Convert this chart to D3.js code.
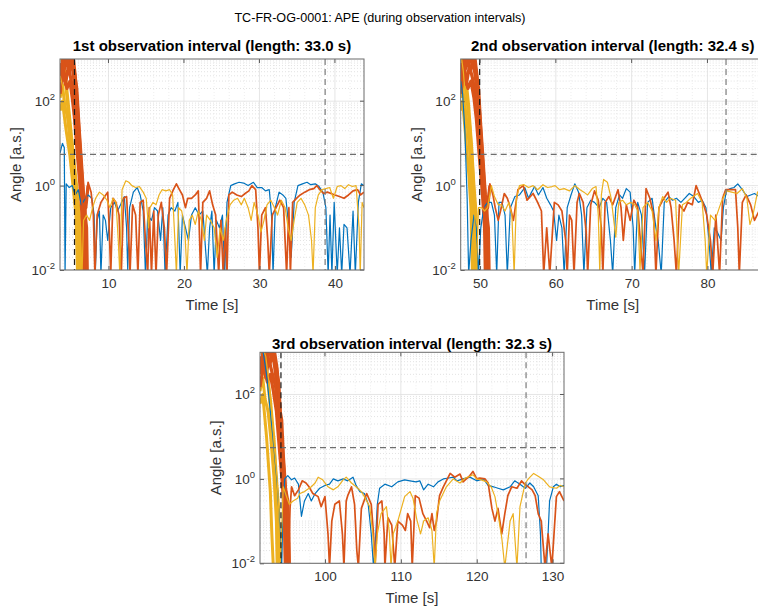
<!DOCTYPE html>
<html><head><meta charset="utf-8">
<script src="https://cdn.jsdelivr.net/npm/d3@7"></script>
<style>
body{margin:0;background:#fff}
svg{font-family:"Liberation Sans",Arial,Helvetica,sans-serif}
</style>
</head><body>
<svg id="chart" width="758" height="607"></svg>
<script>
// ---------------- data ----------------
const suptitle = "TC-FR-OG-0001: APE (during observation intervals)";
const panelTitles = [
  "1st observation interval (length: 33.0 s)",
  "2nd observation interval (length: 32.4 s)",
  "3rd observation interval (length: 32.3 s)"
];
const xLabel = "Time [s]";
const yLabel = "Angle [a.s.]";
const xLimits = [[3.58, 43.85], [47.45, 87.55], [91.44, 131.5]];
const xTicks = [[10, 20, 30, 40], [50, 60, 70, 80], [100, 110, 120, 130]];
const yLimits = [0.01, 1000];
const yTickExps = [-2, 0, 2];
const intervalStart = [5.5, 49.95, 94.2];
const intervalEnd = [38.7, 82.45, 126.5];
const thresholdValue = 5.5;
const seriesColors = { blue: "#0072BD", orange: "#D95319", yellow: "#EDB120" };

const p1Blue = [[3.6,6],[3.9,10],[4.15,8],[4.25,0.008],[4.4,1.1],[4.8,0.9],[5.2,1.0],[5.6,0.6],[6.0,0.8],[6.4,0.35],[6.8,0.45],[7.3,0.6],[7.8,0.5],[8.1,0.2],[8.25,0.008],[8.5,0.15],[8.8,0.25],[9.0,0.008],[9.3,0.2],[9.6,0.15],[9.9,0.05],[10.3,0.3],[10.8,0.4],[11.2,0.25],[11.6,0.35],[12.1,0.55],[12.4,0.1],[12.55,0.01],[12.8,0.3],[13.3,0.7],[13.8,0.9],[14.2,0.6],[14.6,0.25],[14.9,0.008],[15.2,0.2],[15.7,0.15],[16.1,0.3],[16.5,0.25],[16.9,0.05],[17.2,0.3],[17.5,0.008],[17.9,0.2],[18.3,0.3],[18.8,0.25],[19.2,0.4],[19.5,0.008],[19.8,0.2],[20.2,0.1],[20.6,0.05],[21.0,0.2],[21.5,0.3],[22.0,0.2],[22.5,0.25],[23.1,0.008],[23.4,0.1],[23.7,0.25],[24.0,0.008],[24.3,0.15],[24.7,0.1],[25.1,0.2],[25.4,0.008],[25.7,0.4],[26.2,1.0],[26.7,1.1],[27.3,1.2],[27.9,1.15],[28.5,1.0],[29.2,1.2],[29.7,0.9],[30.3,0.9],[30.8,0.75],[31.3,0.8],[31.6,0.2],[31.8,0.008],[32.1,0.3],[32.6,0.7],[33.1,0.6],[33.5,0.5],[33.9,0.1],[34.2,0.02],[34.6,0.4],[35.1,1.0],[35.7,1.1],[36.3,1.2],[36.8,1.05],[37.4,1.1],[37.9,0.95],[38.4,0.7],[38.8,0.3],[39.1,0.008],[39.35,0.2],[39.6,0.008],[39.9,0.4],[40.3,0.008],[40.6,0.1],[40.9,0.008],[41.2,0.12],[41.6,0.1],[42.0,0.008],[42.4,0.25],[42.7,0.008],[43.1,0.4],[43.5,1.1],[43.85,1.0]];
const p1Orange = [[3.6,2000],[5.0,2000],[5.4,300],[5.7,40],[6.0,6],[6.3,1.5],[6.6,0.2],[6.8,0.008],[7.05,0.5],[7.3,1.2],[7.7,0.7],[8.0,0.2],[8.2,0.008],[8.5,0.2],[9.0,0.4],[9.5,0.55],[9.9,0.7],[10.1,0.1],[10.3,0.008],[10.6,0.5],[11.0,0.4],[11.4,0.2],[11.7,0.008],[12.0,0.5],[12.4,0.55],[12.7,0.05],[12.85,0.008],[13.2,0.35],[13.6,0.2],[13.9,0.008],[14.2,0.4],[14.6,0.45],[14.9,0.05],[15.2,0.008],[15.4,0.3],[15.7,0.008],[16.0,0.25],[16.3,0.008],[16.6,0.2],[17.0,0.4],[17.4,0.1],[17.7,0.008],[18.1,0.5],[18.6,0.8],[19.0,1.1],[19.4,0.8],[19.8,0.6],[20.2,0.3],[20.5,0.5],[21.0,0.5],[21.5,0.6],[21.9,0.75],[22.2,0.008],[22.5,0.4],[23.0,0.5],[23.4,0.75],[23.8,0.35],[24.2,0.2],[24.6,0.008],[24.9,0.15],[25.2,0.008],[25.5,0.1],[25.7,0.008],[25.95,0.6],[26.4,0.7],[27.0,0.6],[27.6,0.55],[28.1,0.65],[28.6,0.75],[29.0,1.0],[29.5,0.8],[29.8,0.1],[30.0,0.008],[30.3,0.2],[30.8,0.3],[31.1,0.05],[31.3,0.008],[31.7,0.2],[32.2,0.3],[32.7,0.45],[33.2,0.3],[33.6,0.008],[33.9,0.3],[34.1,0.008],[34.4,0.4],[34.9,0.5],[35.4,0.6],[36.0,0.7],[36.6,0.8],[37.2,0.85],[37.6,1.0],[38.0,0.8],[38.5,0.65],[39.0,0.7],[39.5,0.65],[40.0,0.6],[40.6,0.55],[41.2,0.5],[41.8,0.6],[42.4,0.75],[43.0,0.8],[43.4,0.6],[43.85,0.7]];
const p1Yellow = [[3.6,400],[4.0,200],[4.4,60],[4.8,15],[5.1,5],[5.4,1.5],[5.7,0.5],[6.0,0.2],[6.3,0.05],[6.5,0.008],[6.7,0.15],[7.1,0.2],[7.5,0.15],[7.9,0.3],[8.3,0.5],[8.8,0.7],[9.3,0.6],[9.8,0.45],[10.2,0.3],[10.6,0.5],[11.0,0.4],[11.3,0.05],[11.5,0.008],[11.8,0.8],[12.3,1.3],[12.7,1.2],[13.1,1.0],[13.6,0.9],[14.1,0.95],[14.6,0.7],[15.0,0.5],[15.3,0.1],[15.5,0.3],[15.9,0.4],[16.3,0.35],[16.7,0.6],[17.1,0.8],[17.6,0.75],[18.1,0.8],[18.5,0.6],[18.8,0.05],[19.0,0.008],[19.3,0.3],[19.7,0.25],[20.1,0.1],[20.4,0.008],[20.7,0.15],[21.1,0.2],[21.5,0.12],[21.9,0.25],[22.3,0.15],[22.7,0.05],[23.0,0.2],[23.5,0.15],[24.0,0.1],[24.4,0.02],[24.8,0.1],[25.2,0.05],[25.6,0.15],[26.1,0.35],[26.6,0.45],[27.1,0.5],[27.6,0.35],[28.0,0.5],[28.5,0.3],[28.9,0.15],[29.3,0.4],[29.8,0.2],[30.2,0.08],[30.6,0.15],[31.0,0.35],[31.5,0.45],[32.0,0.3],[32.4,0.2],[32.9,0.45],[33.4,0.3],[33.8,0.1],[34.2,0.05],[34.6,0.15],[35.0,0.4],[35.5,0.5],[36.0,0.35],[36.5,0.2],[36.9,0.05],[37.1,0.008],[37.4,0.3],[37.8,0.6],[38.3,0.8],[38.8,0.85],[39.3,0.9],[39.8,0.5],[40.3,0.95],[40.8,1.0],[41.3,0.85],[41.8,1.05],[42.3,0.95],[42.8,1.0],[43.2,0.1],[43.35,0.008],[43.6,0.4],[43.85,0.3]];
const p1OrangeBundle = [
  [[3.6,800],[4.0,400],[4.4,1200],[4.8,500],[5.1,900],[5.45,300],[5.7,60],[6.0,12],[6.3,2],[6.6,0.4],[6.8,0.05],[6.9,0.008]],
  [[3.6,300],[3.9,900],[4.3,250],[4.7,700],[5.0,350],[5.4,150],[5.7,30],[5.85,40],[6.1,6],[6.5,0.8],[6.8,0.2],[7.0,0.008]],
  [[3.6,2000],[4.2,600],[4.6,1500],[5.0,800],[5.3,1200],[5.6,400],[5.9,70],[6.2,10],[6.5,1.5],[6.8,0.3],[7.1,0.1],[7.2,0.008]],
  [[3.6,150],[4.0,500],[4.5,200],[4.9,300],[5.2,120],[5.5,40],[5.9,5],[6.3,0.7],[6.6,0.1],[6.7,0.008]],
  [[3.6,1500],[4.1,2000],[4.5,700],[5.0,1500],[5.4,600],[5.8,200],[6.1,25],[6.4,4],[6.7,0.6],[7.0,0.3],[7.3,1.0]]
];
const p1YellowBundle = [
  [[3.6,600],[3.9,300],[4.2,500],[4.5,120],[4.8,30],[5.2,6],[5.6,1],[6.0,0.2],[6.2,0.008]],
  [[3.6,120],[3.9,250],[4.2,80],[4.6,40],[5.0,8],[5.4,1.5],[5.8,0.3],[6.1,0.05],[6.2,0.008]],
  [[3.6,1500],[4.0,700],[4.3,400],[4.7,80],[5.1,15],[5.5,3],[5.9,0.6],[6.3,0.1],[6.4,0.008]],
  [[3.6,60],[3.9,100],[4.4,20],[4.9,5],[5.3,1.0],[5.7,0.2],[5.9,0.008]]
];

const p2Blue = [[47.45,300],[47.7,150],[48.0,20],[48.3,0.5],[48.5,0.008],[48.8,0.05],[49.2,0.2],[49.5,0.1],[49.8,0.008],[50.1,0.1],[50.5,0.3],[51.0,0.4],[51.5,0.4],[51.9,0.2],[52.2,0.008],[52.5,0.4],[52.9,0.4],[53.3,0.2],[53.6,0.008],[54.0,0.3],[54.6,0.55],[55.2,0.6],[55.9,0.9],[56.4,0.5],[56.8,0.7],[57.2,0.95],[57.7,0.6],[58.3,0.9],[58.8,0.5],[59.3,0.35],[59.7,0.25],[60.1,0.05],[60.4,0.2],[60.8,0.1],[61.1,0.008],[61.5,0.3],[62.0,0.6],[62.5,1.1],[63.0,0.7],[63.4,0.2],[63.7,0.008],[64.1,0.3],[64.6,0.45],[65.1,0.4],[65.7,0.3],[66.2,0.5],[66.7,0.4],[67.2,0.05],[67.5,0.008],[67.9,0.3],[68.4,0.6],[68.8,0.5],[69.3,0.85],[69.8,0.7],[70.2,0.1],[70.4,0.008],[70.8,0.4],[71.3,0.2],[71.7,0.008],[72.1,0.4],[72.7,0.5],[73.2,0.1],[73.5,0.05],[73.9,0.008],[74.3,0.4],[74.9,0.55],[75.4,0.45],[75.9,0.5],[76.5,0.4],[77.0,0.5],[77.6,0.65],[78.2,0.55],[78.8,0.4],[79.3,0.45],[79.8,0.3],[80.2,0.05],[80.5,0.008],[80.9,0.1],[81.3,0.08],[81.8,0.05],[82.1,0.3],[82.5,0.75],[83.0,0.85],[83.5,0.9],[84.0,1.1],[84.6,0.8],[85.2,0.55],[85.7,0.6],[86.2,0.65],[86.8,0.55],[87.55,0.6]];
const p2Orange = [[47.45,3000],[49.0,2500],[49.4,300],[49.7,30],[50.0,6],[50.3,1.0],[50.6,0.1],[50.8,0.008],[51.05,0.5],[51.3,1.1],[51.7,0.6],[52.0,0.3],[52.4,0.15],[52.7,0.25],[53.2,0.65],[53.6,0.5],[54.0,0.3],[54.4,0.15],[55.0,0.8],[55.7,1.0],[56.2,0.45],[57.0,0.65],[57.6,0.4],[58.1,0.25],[58.4,0.008],[58.8,0.1],[59.2,0.008],[59.8,0.4],[60.3,0.35],[60.8,0.25],[61.3,0.05],[61.5,0.008],[61.8,0.2],[62.1,0.15],[62.4,0.008],[62.8,0.4],[63.1,0.65],[63.6,0.4],[64.0,0.08],[64.2,0.008],[64.6,0.35],[65.1,0.75],[65.6,0.45],[66.0,0.1],[66.2,0.008],[66.5,0.4],[67.0,0.55],[67.5,0.35],[68.2,0.8],[68.6,0.3],[68.9,0.05],[69.3,0.35],[69.8,0.15],[70.3,0.45],[70.8,0.3],[71.5,0.008],[71.9,0.85],[72.4,0.5],[72.9,0.2],[73.2,0.008],[73.6,0.3],[74.1,0.45],[74.8,0.7],[75.2,0.3],[75.6,0.05],[75.9,0.008],[76.3,0.35],[76.9,0.25],[77.4,0.4],[78.0,0.35],[78.5,1.0],[79.0,0.6],[79.5,0.35],[79.9,0.2],[80.4,0.05],[80.7,0.008],[81.1,0.2],[81.6,0.008],[82.0,0.5],[82.4,0.8],[83.0,0.8],[83.7,0.8],[84.0,0.1],[84.2,0.008],[84.6,0.4],[85.1,0.6],[85.7,0.35],[86.2,0.15],[86.8,0.25],[87.55,0.3]];
const p2Yellow = [[47.45,1500],[47.8,500],[48.2,60],[48.6,8],[49.0,1.0],[49.3,0.2],[49.5,0.008],[49.8,0.3],[50.2,0.3],[50.6,0.25],[51.0,0.3],[51.5,1.0],[51.9,0.55],[52.4,0.35],[52.8,0.35],[53.3,0.25],[53.8,0.4],[54.2,0.2],[54.5,0.008],[54.8,0.5],[55.2,1.0],[55.8,1.05],[56.4,0.9],[57.0,1.0],[57.6,0.8],[58.3,1.05],[58.9,0.9],[59.5,0.95],[59.9,1.0],[60.5,0.8],[61.1,0.85],[61.8,0.75],[62.5,1.0],[63.2,0.8],[63.7,0.7],[64.2,0.6],[64.8,0.85],[65.3,0.95],[65.6,0.2],[65.8,0.008],[66.0,0.6],[66.3,1.4],[66.8,1.2],[67.3,0.5],[67.9,0.06],[68.3,0.4],[68.8,0.45],[69.3,0.35],[69.9,0.4],[70.4,0.35],[70.8,0.25],[71.1,0.01],[71.5,0.3],[72.1,0.4],[72.7,0.25],[73.2,0.05],[73.6,0.3],[74.1,0.55],[74.6,0.4],[75.1,0.5],[75.8,0.45],[76.2,0.008],[76.7,0.35],[77.2,0.4],[77.8,0.5],[78.7,0.65],[79.3,0.4],[79.7,0.05],[79.9,0.008],[80.4,0.2],[81.0,0.15],[81.8,0.4],[82.5,0.75],[83.2,0.7],[83.9,0.65],[84.6,0.85],[85.2,0.5],[85.6,0.12],[86.0,0.2],[86.6,0.7],[87.0,0.8],[87.55,0.5]];
const p2OrangeBundle = [
  [[47.45,800],[47.9,400],[48.3,1200],[48.7,500],[49.1,900],[49.45,300],[49.7,60],[50.0,12],[50.3,2],[50.6,0.4],[50.8,0.05],[50.9,0.008]],
  [[47.45,300],[47.8,900],[48.2,250],[48.6,700],[49.0,350],[49.4,150],[49.7,30],[50.1,6],[50.5,0.8],[50.8,0.2],[51.0,0.008]],
  [[47.45,2000],[48.1,600],[48.5,1500],[48.9,800],[49.3,1200],[49.6,400],[49.9,70],[50.2,10],[50.5,1.5],[50.8,0.3],[51.1,0.1],[51.2,0.008]],
  [[47.45,150],[47.9,500],[48.4,200],[48.8,300],[49.2,120],[49.5,40],[49.9,5],[50.3,0.7],[50.6,0.1],[50.7,0.008]],
  [[47.45,1500],[48.0,2000],[48.4,700],[48.9,1500],[49.4,600],[49.8,200],[50.1,25],[50.4,4],[50.7,0.6],[51.0,0.3],[51.3,1.0]]
];
const p2YellowBundle = [
  [[47.45,600],[47.75,300],[48.0,500],[48.3,100],[48.7,20],[49.0,3],[49.3,0.3],[49.5,0.008]],
  [[47.45,120],[47.7,250],[48.0,60],[48.3,30],[48.6,8],[48.9,1],[49.2,0.1],[49.3,0.008]],
  [[47.45,1500],[47.8,700],[48.1,400],[48.5,80],[48.9,8],[49.2,1],[49.5,0.2],[49.6,0.008]],
  [[47.45,60],[47.7,100],[48.1,15],[48.5,2],[48.8,0.3],[49.0,0.008]]
];

const p3Blue = [[91.44,1500],[91.8,1200],[92.3,300],[92.8,40],[93.3,5],[93.7,0.8],[94.0,0.1],[94.3,0.008],[94.5,0.3],[94.7,1.0],[95.1,1.2],[95.6,0.95],[96.0,1.05],[96.5,0.75],[96.9,0.13],[97.3,0.3],[97.8,0.45],[98.2,0.3],[98.7,0.45],[99.3,0.6],[100.0,0.7],[100.6,0.75],[101.1,1.0],[101.7,0.9],[102.4,1.0],[103.0,0.9],[103.7,1.1],[104.1,0.7],[104.6,0.5],[105.2,0.45],[105.7,0.25],[106.1,0.05],[106.4,0.008],[106.7,0.05],[106.9,0.25],[107.2,0.6],[107.9,0.75],[108.8,0.65],[109.6,0.85],[110.5,0.95],[111.2,0.9],[112.0,0.85],[112.5,0.9],[113.0,0.55],[113.6,0.75],[114.3,0.65],[114.9,0.85],[115.6,1.0],[116.3,1.05],[116.9,1.1],[117.4,0.9],[118.2,1.0],[119.1,1.1],[120.0,0.9],[120.9,1.0],[121.5,0.7],[122.2,0.65],[122.8,0.6],[123.5,0.55],[124.4,0.65],[125.0,0.9],[125.7,0.75],[126.4,0.6],[127.0,0.8],[127.5,0.65],[128.1,0.4],[128.4,0.05],[128.5,0.008],[128.9,0.01],[129.2,0.008],[129.6,0.3],[130.1,0.65],[130.5,0.75],[131.0,0.65],[131.5,0.7]];
const p3Orange = [[91.44,4000],[93.0,3000],[93.4,300],[93.8,25],[94.2,3],[94.5,0.4],[94.7,0.008],[95.2,0.01],[95.4,0.2],[95.6,0.65],[96.0,0.4],[96.5,0.55],[97.0,0.9],[97.5,0.8],[97.9,0.65],[98.4,0.45],[99.1,0.38],[99.5,0.22],[100.0,0.38],[100.4,0.05],[100.6,0.008],[100.9,0.1],[101.3,0.25],[101.9,0.3],[102.3,0.05],[102.5,0.008],[102.8,0.3],[103.0,0.4],[103.5,0.65],[103.9,0.25],[104.2,0.02],[104.4,0.008],[104.8,0.2],[105.5,0.45],[106.1,0.25],[106.4,0.05],[106.6,0.008],[107.0,0.25],[107.5,0.3],[107.8,0.05],[107.9,0.008],[108.3,0.12],[108.8,0.08],[109.2,0.008],[109.6,0.1],[110.2,0.08],[110.6,0.06],[110.9,0.15],[111.3,0.1],[111.5,0.008],[111.9,0.4],[112.4,0.35],[112.9,0.15],[113.4,0.1],[113.8,0.07],[114.1,0.15],[114.4,0.06],[114.7,0.1],[115.1,0.4],[115.6,0.65],[116.0,0.9],[116.5,1.35],[117.1,1.1],[117.8,1.3],[118.2,0.85],[119.1,1.2],[119.5,1.5],[120.0,1.0],[120.4,1.05],[121.1,1.0],[121.5,0.8],[122.0,0.2],[122.4,0.1],[122.8,0.2],[123.3,0.05],[123.7,0.15],[124.1,0.4],[124.6,0.65],[125.3,0.6],[125.9,0.9],[126.3,0.75],[126.8,0.65],[127.3,0.55],[127.7,0.4],[128.1,0.15],[128.5,0.1],[129.0,0.008],[129.4,0.05],[129.9,0.008],[130.5,0.38],[130.9,0.5],[131.5,0.3]];
const p3Yellow = [[91.44,2000],[92.2,800],[92.7,150],[93.1,20],[93.4,4],[93.7,1.0],[93.9,0.2],[94.1,0.008],[94.4,0.2],[94.5,0.65],[94.9,0.4],[95.3,0.25],[95.8,0.3],[96.4,0.35],[96.7,0.45],[97.3,0.5],[98.2,0.65],[98.7,0.8],[99.1,1.1],[99.7,0.95],[100.4,0.65],[101.1,0.55],[101.7,0.65],[102.4,0.95],[102.8,1.1],[103.5,0.8],[104.1,0.65],[104.8,0.5],[105.2,0.38],[105.9,0.22],[106.3,0.05],[106.6,0.008],[106.9,0.05],[107.4,0.15],[108.1,0.22],[108.5,0.05],[108.7,0.008],[109.0,0.05],[109.6,0.1],[110.5,0.38],[111.2,0.5],[111.6,0.35],[112.1,0.11],[112.6,0.05],[113.0,0.1],[113.6,0.12],[114.1,0.06],[114.4,0.008],[114.7,0.15],[115.1,0.3],[116.0,0.65],[116.9,1.0],[117.8,0.8],[118.5,1.05],[119.1,1.15],[119.5,1.25],[120.0,1.0],[120.6,0.95],[121.3,0.85],[121.9,0.65],[122.4,0.38],[122.8,0.15],[123.3,0.04],[123.7,0.008],[124.4,0.1],[124.8,0.15],[125.3,0.008],[125.7,0.22],[126.4,0.8],[126.8,1.0],[127.5,1.35],[128.1,1.15],[128.8,0.95],[129.6,0.65],[130.5,0.6],[131.0,0.7],[131.5,0.65]];
const p3OrangeBundle = [
  [[91.44,800],[91.9,400],[92.3,1200],[92.7,500],[93.1,900],[93.55,300],[93.8,60],[94.1,12],[94.4,2],[94.7,0.4],[94.9,0.05],[95.0,0.008]],
  [[91.44,300],[91.8,900],[92.2,250],[92.6,700],[93.0,350],[93.5,150],[93.8,30],[93.95,40],[94.2,6],[94.6,0.8],[94.9,0.2],[95.1,0.008]],
  [[91.44,2000],[92.1,600],[92.5,1500],[92.9,800],[93.3,1200],[93.7,400],[94.0,70],[94.3,10],[94.6,1.5],[94.9,0.3],[95.2,0.1],[95.3,0.008]],
  [[91.44,150],[91.9,500],[92.4,200],[92.8,300],[93.2,120],[93.6,40],[94.0,5],[94.4,0.7],[94.7,0.1],[94.8,0.008]],
  [[91.44,1500],[92.0,2000],[92.4,700],[92.9,1500],[93.4,600],[93.9,200],[94.1,40],[94.3,25],[94.5,4],[94.8,0.6],[95.1,0.3],[95.3,0.008]]
];
const p3YellowBundle = [
  [[91.44,600],[91.8,300],[92.2,500],[92.6,120],[93.0,20],[93.4,3],[93.7,0.3],[93.9,0.008]],
  [[91.44,120],[91.8,250],[92.1,80],[92.5,40],[92.9,8],[93.3,1],[93.6,0.1],[93.7,0.008]],
  [[91.44,1500],[91.9,700],[92.3,400],[92.8,80],[93.3,8],[93.6,1],[93.9,0.2],[94.0,0.008]],
  [[91.44,60],[91.8,100],[92.3,10],[92.8,0.5],[93.0,0.05],[93.2,0.008]]
];

const panelSeries = [
  {blue:p1Blue, orange:p1Orange, yellow:p1Yellow, orangeBundle:p1OrangeBundle, yellowBundle:p1YellowBundle},
  {blue:p2Blue, orange:p2Orange, yellow:p2Yellow, orangeBundle:p2OrangeBundle, yellowBundle:p2YellowBundle},
  {blue:p3Blue, orange:p3Orange, yellow:p3Yellow, orangeBundle:p3OrangeBundle, yellowBundle:p3YellowBundle}
];

// ---------------- layout ----------------
const boxes = [
  {left:60, top:59, titleY:51},
  {left:460.7, top:59, titleY:51},
  {left:260, top:352.3, titleY:348.5}
];
const PW = 304, PH = 211;
const svg = d3.select("#chart");

svg.append("text").attr("x", 380).attr("y", 22).attr("text-anchor","middle")
  .attr("font-size", 12.6).attr("fill","#000").text(suptitle);

panelSeries.forEach((S, i) => {
  const b = boxes[i];
  const x = d3.scaleLinear().domain(xLimits[i]).range([0, PW]);
  const y = d3.scaleLog().domain(yLimits).range([PH, 0]);
  const g = svg.append("g").attr("transform", `translate(${b.left},${b.top})`);

  g.append("rect").attr("width", PW).attr("height", PH).attr("fill", "#fff");

  const minorY = [];
  for (let e = -2; e < 3; e++) for (let k = 1; k <= 9; k++) {
    const v = k * Math.pow(10, e);
    if (k === 1 && yTickExps.includes(e)) continue;
    minorY.push(v);
  }
  g.selectAll(".gmy").data(minorY).enter().append("line")
    .attr("x1", 0).attr("x2", PW).attr("y1", d => y(d)).attr("y2", d => y(d))
    .attr("stroke", "#d0d0d0").attr("stroke-width", 0.6).attr("stroke-dasharray", "1,2");
  const mx = d3.range(Math.ceil(xLimits[i][0] / 2) * 2, xLimits[i][1], 2).filter(v => v % 10 !== 0);
  g.selectAll(".gmx").data(mx).enter().append("line")
    .attr("x1", d => x(d)).attr("x2", d => x(d)).attr("y1", 0).attr("y2", PH)
    .attr("stroke", "#e2e2e2").attr("stroke-width", 0.6).attr("stroke-dasharray", "1,2");
  g.selectAll(".gx").data(xTicks[i]).enter().append("line")
    .attr("x1", d => x(d)).attr("x2", d => x(d)).attr("y1", 0).attr("y2", PH)
    .attr("stroke", "#e0e0e0").attr("stroke-width", 0.8);
  g.selectAll(".gy").data(yTickExps).enter().append("line")
    .attr("x1", 0).attr("x2", PW).attr("y1", d => y(Math.pow(10, d))).attr("y2", d => y(Math.pow(10, d)))
    .attr("stroke", "#e0e0e0").attr("stroke-width", 0.8);

  const clipId = "clip" + i;
  svg.append("clipPath").attr("id", clipId).append("rect")
    .attr("x", b.left).attr("y", b.top).attr("width", PW).attr("height", PH);
  const lg = svg.append("g").attr("clip-path", `url(#${clipId})`)
    .append("g").attr("transform", `translate(${b.left},${b.top})`);
  const line = d3.line().x(d => x(d[0])).y(d => y(d[1]));

  S.yellowBundle.forEach(s => lg.append("path").attr("d", line(s)).attr("fill","none")
    .attr("stroke", seriesColors.yellow).attr("stroke-width", 3).attr("stroke-linejoin","round"));
  S.orangeBundle.forEach(s => lg.append("path").attr("d", line(s)).attr("fill","none")
    .attr("stroke", seriesColors.orange).attr("stroke-width", 3.2).attr("stroke-linejoin","round"));
  [["blue", 1.2], ["orange", 1.7], ["yellow", 1.2]].forEach(([k, w]) => {
    lg.append("path").attr("d", line(S[k])).attr("fill", "none")
      .attr("stroke", seriesColors[k]).attr("stroke-width", w).attr("stroke-linejoin","round");
  });

  lg.append("line").attr("x1", 0).attr("x2", PW).attr("y1", y(thresholdValue)).attr("y2", y(thresholdValue))
    .attr("stroke", "#6e6e6e").attr("stroke-width", 1.2).attr("stroke-dasharray", "6,4");
  lg.append("line").attr("x1", x(intervalStart[i])).attr("x2", x(intervalStart[i])).attr("y1", 0).attr("y2", PH)
    .attr("stroke", "#1a1a1a").attr("stroke-width", 1.2).attr("stroke-dasharray", "6,4");
  lg.append("line").attr("x1", x(intervalEnd[i])).attr("x2", x(intervalEnd[i])).attr("y1", 0).attr("y2", PH)
    .attr("stroke", "#7a7a7a").attr("stroke-width", 1.2).attr("stroke-dasharray", "6,4");

  const ax = svg.append("g").attr("transform", `translate(${b.left},${b.top})`);
  const xAxis = d3.axisBottom(x).tickValues(xTicks[i]).tickSize(-4).tickPadding(8).tickFormat(d3.format("d"));
  const xg = ax.append("g").attr("transform", `translate(0,${PH})`).call(xAxis);
  const yAxis = d3.axisLeft(y).tickValues(yTickExps.map(e => Math.pow(10, e))).tickSize(-4).tickFormat("");
  const yg = ax.append("g").call(yAxis);
  [xg, yg].forEach(a => {
    a.select(".domain").remove();
    a.selectAll(".tick line").attr("stroke", "#5a5a5a");
  });
  xg.selectAll(".tick text").attr("font-size", 13.5).attr("fill", "#333")
    .attr("font-family", '"Liberation Sans",Arial,sans-serif');
  ax.selectAll(".tt").data(xTicks[i]).enter().append("line")
    .attr("x1", d => x(d)).attr("x2", d => x(d)).attr("y1", 0).attr("y2", 4).attr("stroke", "#5a5a5a");
  ax.selectAll(".rt").data(yTickExps).enter().append("line")
    .attr("x1", PW).attr("x2", PW - 4).attr("y1", d => y(Math.pow(10, d))).attr("y2", d => y(Math.pow(10, d))).attr("stroke", "#5a5a5a");
  yTickExps.forEach(e => {
    const t = ax.append("text").attr("x", -5).attr("y", y(Math.pow(10, e)) + 5)
      .attr("text-anchor", "end").attr("font-size", 13.5).attr("fill", "#333");
    t.append("tspan").text("10");
    t.append("tspan").attr("font-size", 9.5).attr("dy", -6).text(String(e));
  });
  ax.append("rect").attr("width", PW).attr("height", PH).attr("fill", "none")
    .attr("stroke", "#6b6b6b").attr("stroke-width", 1);

  ax.append("text").attr("x", PW / 2).attr("y", PH + 39.5).attr("text-anchor", "middle")
    .attr("font-size", 15).attr("fill", "#333").text(xLabel);
  ax.append("text").attr("transform", `translate(-39,${PH / 2}) rotate(-90)`).attr("text-anchor", "middle")
    .attr("font-size", 15).attr("fill", "#333").text(yLabel);
  svg.append("text").attr("x", b.left + PW / 2).attr("y", b.titleY).attr("text-anchor", "middle")
    .attr("font-size", 15).attr("font-weight", "bold").attr("fill", "#000").text(panelTitles[i]);
});
</script>
</body></html>
